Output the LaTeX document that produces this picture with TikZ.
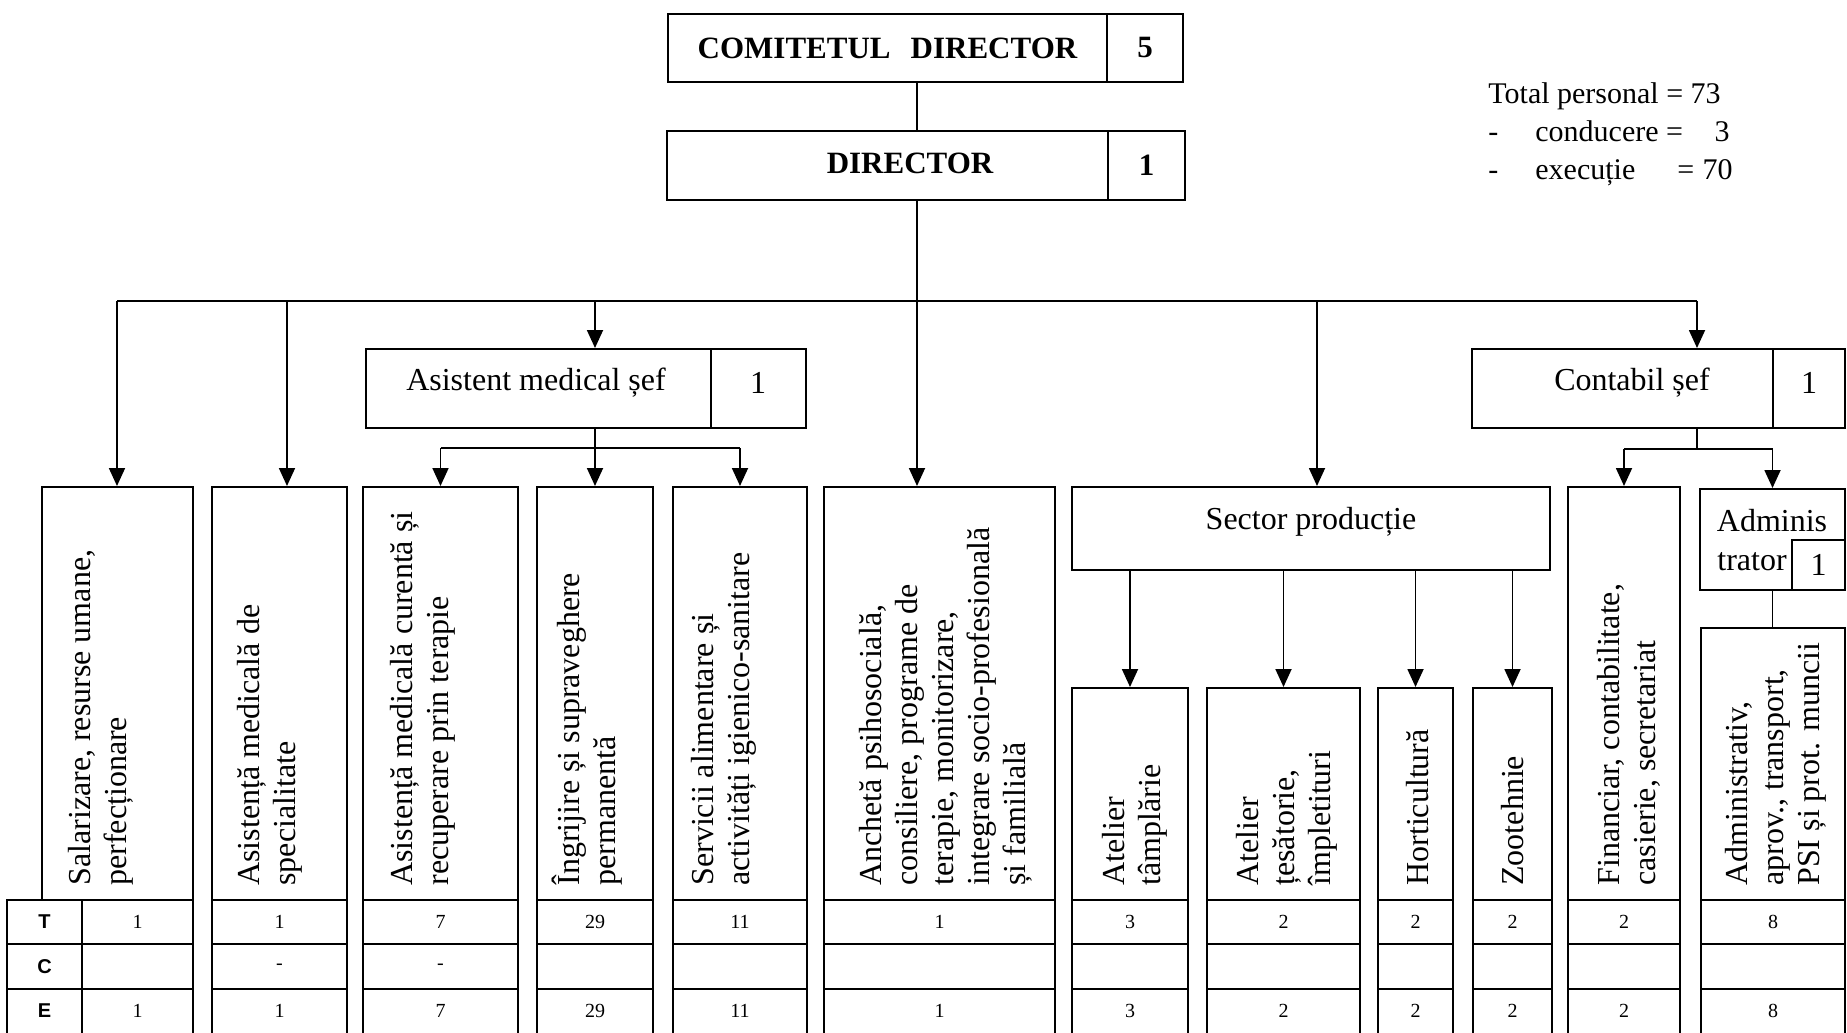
\documentclass[tikz,border=0pt]{standalone}
\usepackage{fontspec}
\setmainfont{Liberation Serif}
\setsansfont{Liberation Sans}
\usetikzlibrary{arrows.meta,fit}
\newcommand\orgcol[7]{%
  \node[bx, fit={(#2,#3) (#4,900)}] (#1) {};
  \node[bx, fit={(#2,900) (#4,944)}] (#1-T) {};
  \node[bx, fit={(#2,944) (#4,989)}] (#1-C) {};
  \node[bx, fit={(#2,989) (#4,1045)}] (#1-E) {};
  \node[num] (#1-Tv) at (#1-T.center) {#5};
  \node[num] (#1-Cv) at (#1-C.center) {#6};
  \node[num] (#1-Ev) at ([yshift=3pt]#1-E.center) {#7};
}
\begin{document}
\begin{tikzpicture}[x=0.5pt,y=-0.5pt,
  bx/.style={draw, line width=1pt, inner sep=0pt},
  conn/.style={line width=0.9pt},
  arr/.style={conn, -{Triangle[length=9pt,width=8pt]}},
  vtext/.style={rotate=90, anchor=west, align=left, inner sep=0pt, font=\fontsize{16}{18}\selectfont},
  num/.style={font=\fontsize{10}{12}\selectfont, inner sep=0pt},
  big/.style={font=\fontsize{16}{19}\selectfont, inner sep=0pt},
  bigb/.style={font=\bfseries\fontsize{15.5}{19}\selectfont, inner sep=0pt},
  lab/.style={font=\sffamily\bfseries\fontsize{10}{12}\selectfont, inner sep=0pt},
  tot/.style={font=\fontsize{15}{18}\selectfont, inner sep=0pt},
]
\useasboundingbox (0,0) rectangle (1847,1033);
\clip (0,0) rectangle (1847,1033);
\fill[white] (0,0) rectangle (1847,1033);

% top boxes
\node[bx, fit={(668,14) (1107,82)}] (com) {};
\node[bigb] (com-t) at (com.center) {COMITETUL\hspace{0.4em} DIRECTOR};
\node[bx, fit={(1107,14) (1183,82)}] (com-n) {};
\node[bigb] (com-nt) at (com-n.center) {5};
\node[bx, fit={(667,131) (1108,200)}] (dir) {};
\node[bigb] (dir-t) at (910,163) {DIRECTOR};
\node[bx, fit={(1108,131) (1185,200)}] (dir-n) {};
\node[bigb] (dir-nt) at (dir-n.center) {1};

% total
\node[tot, anchor=base west] (tot1) at (1488,103) {Total personal = 73};
\node[tot, anchor=base west] (dash1) at (1488,141) {-};
\node[tot, anchor=base west] (cond) at (1535,141) {conducere =};
\node[tot, anchor=base east] (n3) at (1730,141) {3};
\node[tot, anchor=base west] (dash2) at (1488,179) {-};
\node[tot, anchor=base west] (exe) at (1535,179) {execuție};
\node[tot, anchor=base west] (eq2) at (1677,179) {=};
\node[tot, anchor=base east] (n70) at (1733,179) {70};

% second level boxes
\node[bx, fit={(366,349) (711,428)}] (ams) {};
\node[big] (ams-t) at (536,383) {Asistent medical șef};
\node[bx, fit={(711,349) (806,428)}] (ams-n) {};
\node[big] (ams-nt) at (758,383) {1};
\node[bx, fit={(1472,349) (1773,428)}] (cont) {};
\node[big] (cont-t) at (1632,383) {Contabil șef};
\node[bx, fit={(1773,349) (1845,428)}] (cont-n) {};
\node[big] (cont-nt) at (1809,383) {1};

% columns
\node[bx, fit={(42,487) (193,900)}] (sal) {};
\node[bx, fit={(82,900) (193,944)}] (sal-T) {};
\node[bx, fit={(82,944) (193,989)}] (sal-C) {};
\node[bx, fit={(82,989) (193,1045)}] (sal-E) {};
\node[num] (sal-Tv) at (sal-T.center) {1};
\node[num] (sal-Ev) at ([yshift=3pt]sal-E.center) {1};
\node[bx, fit={(7,900) (82,944)}] (rT) {};
\node[bx, fit={(7,944) (82,989)}] (rC) {};
\node[bx, fit={(7,989) (82,1045)}] (rE) {};
\node[lab] (rT-t) at (rT.center) {T};
\node[lab] (rC-t) at (rC.center) {C};
\node[lab] (rE-t) at ([yshift=3pt]rE.center) {E};

\orgcol{asp}{212}{487}{347}{1}{-}{1}
\orgcol{acu}{363}{487}{518}{7}{-}{7}
\orgcol{ing}{537}{487}{653}{29}{}{29}
\orgcol{ser}{673}{487}{807}{11}{}{11}
\orgcol{anc}{824}{487}{1055}{1}{}{1}
\orgcol{tam}{1072}{688}{1188}{3}{}{3}
\orgcol{tes}{1207}{688}{1360}{2}{}{2}
\orgcol{hor}{1378}{688}{1453}{2}{}{2}
\orgcol{zoo}{1473}{688}{1552}{2}{}{2}
\orgcol{fin}{1568}{487}{1680}{2}{}{2}
\orgcol{adm}{1701}{628}{1845}{8}{}{8}

\node[bx, fit={(1072,487) (1550,570)}] (sec) {};
\node[big] (sec-t) at (1311,522) {Sector producție};

\node[bx, fit={(1700,489) (1845,590)}] (adr) {};
\node[big] (adr-t1) at (1772,521) {Adminis};
\node[big] (adr-t2) at (1752,562) {trator};
\node[bx, fit={(1792,540) (1845,590)}] (adr-n) {};
\node[big] (adr-nt) at (adr-n.center) {1};

% vertical texts
\node[vtext] (sal-x) at (101,886) {Salarizare, resurse umane,\\perfecționare};
\node[vtext] (asp-x) at (270,886) {Asistență medicală de\\specialitate};
\node[vtext] (acu-x) at (423,886) {Asistență medicală curentă și\\recuperare prin terapie};
\node[vtext] (ing-x) at (587,886) {Îngrijire și supraveghere\\permanentă};
\node[vtext] (ser-x) at (724,886) {Servicii alimentare și\\activități igienico-sanitare};
\node[vtext] (anc-x) at (946,886) {Anchetă psihosocială,\\consiliere, programe de\\terapie, monitorizare,\\integrare socio-profesională\\și familială};
\node[vtext] (tam-x) at (1135,886) {Atelier\\tâmplărie};
\node[vtext] (tes-x) at (1287,886) {Atelier\\țesătorie,\\împletituri};
\node[vtext] (hor-x) at (1418,886) {Horticultură};
\node[vtext] (zoo-x) at (1513,886) {Zootehnie};
\node[vtext] (fin-x) at (1629,886) {Financiar, contabilitate,\\casierie, secretariat};
\node[vtext] (adm-x) at (1776,886) {Administrativ,\\aprov., transport,\\PSI și prot. muncii};

% connectors
\coordinate (spine) at (917,301);
\coordinate (hl) at (117,301);
\coordinate (hr) at (1697,301);
\coordinate (d2) at (287,301);
\coordinate (d3) at (595,301);
\coordinate (d5) at (1317,301);
\draw[conn] (spine |- com.south) -- (spine |- dir.north);
\draw[arr] (spine |- dir.south) -- (spine |- anc.north);
\draw[conn] (hl) -- (hr);
\draw[arr] (hl) -- (hl |- sal.north);
\draw[arr] (d2) -- (d2 |- asp.north);
\draw[arr] (d3) -- (d3 |- ams.north);
\draw[arr] (d5) -- (d5 |- sec.north);
\draw[arr] (hr) -- (hr |- cont.north);

\coordinate (ab) at (595,448);
\draw[conn] (ab |- ams.south) -- (ab);
\draw[conn] (acu.north |- ab) -- (ser.north |- ab);
\draw[arr] (acu.north |- ab) -- (acu.north);
\draw[arr] (ab) -- (ing.north);
\draw[arr] (ser.north |- ab) -- (ser.north);

\coordinate (cb) at (1697,449);
\draw[conn] (cb |- cont.south) -- (cb);
\draw[conn] (fin.north |- cb) -- (adr.north |- cb);
\draw[arr] (fin.north |- cb) -- (fin.north);
\draw[arr] (adr.north |- cb) -- (adr.north);
\draw[conn] (adr.south) -- (adr.south |- adm.north);

\draw[arr] (tam.north |- sec.south) -- (tam.north);
\draw[arr] (tes.north |- sec.south) -- (tes.north);
\draw[arr] (hor.north |- sec.south) -- (hor.north);
\draw[arr] (zoo.north |- sec.south) -- (zoo.north);
\end{tikzpicture}
\end{document}
